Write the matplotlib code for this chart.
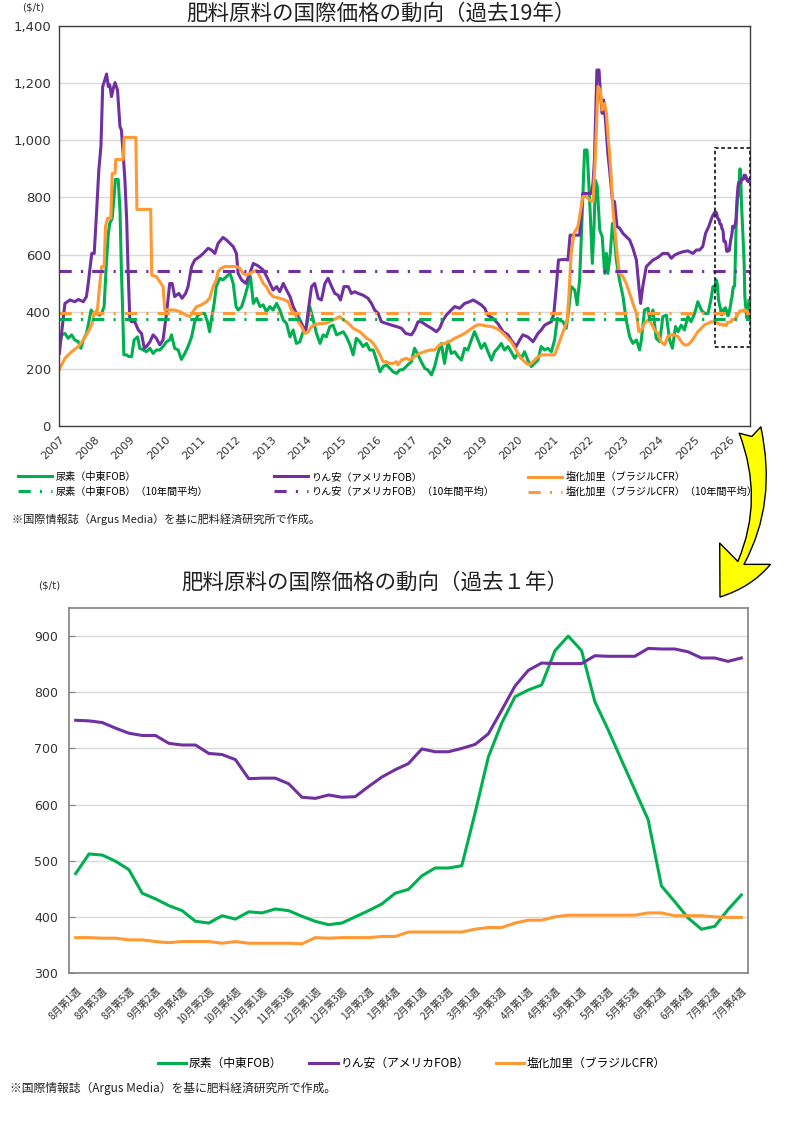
import numpy as np
import pandas as pd
import matplotlib
matplotlib.use('Agg')
import matplotlib.pyplot as plt
from matplotlib.patches import Rectangle, FancyArrowPatch
from matplotlib.ticker import FuncFormatter

plt.rcParams['font.family'] = ['Noto Sans CJK JP', 'DejaVu Sans']

# ---- 過去19年 (decimal year) ----
urea_year = [
    2007.00, 2007.07, 2007.16, 2007.25, 2007.35, 2007.44, 2007.54, 2007.61, 2007.68, 2007.77,
    2007.82, 2007.90, 2007.96, 2008.06, 2008.15, 2008.20, 2008.27, 2008.34, 2008.39, 2008.43,
    2008.50, 2008.56, 2008.59, 2008.67, 2008.72, 2008.76, 2008.79, 2008.83, 2008.91, 2008.97,
    2009.05, 2009.12, 2009.22, 2009.28, 2009.38, 2009.47, 2009.57, 2009.66, 2009.75, 2009.85,
    2009.94, 2010.04, 2010.13, 2010.18, 2010.27, 2010.37, 2010.46, 2010.56, 2010.65, 2010.75,
    2010.84, 2010.93, 2011.03, 2011.12, 2011.20, 2011.26, 2011.31, 2011.39, 2011.45, 2011.55,
    2011.64, 2011.74, 2011.84, 2011.93, 2012.01, 2012.07, 2012.17, 2012.26, 2012.36, 2012.42,
    2012.50, 2012.59, 2012.69, 2012.78, 2012.87, 2012.97, 2013.06, 2013.16, 2013.25, 2013.35,
    2013.44, 2013.54, 2013.63, 2013.72, 2013.82, 2013.91, 2014.01, 2014.10, 2014.20, 2014.29,
    2014.39, 2014.48, 2014.57, 2014.67, 2014.76, 2014.86, 2014.95, 2015.05, 2015.14, 2015.24,
    2015.33, 2015.42, 2015.52, 2015.61, 2015.71, 2015.80, 2015.90, 2015.99, 2016.09, 2016.18,
    2016.27, 2016.37, 2016.46, 2016.56, 2016.65, 2016.75, 2016.88, 2016.98, 2017.07, 2017.17,
    2017.26, 2017.36, 2017.45, 2017.55, 2017.64, 2017.73, 2017.83, 2017.92, 2018.02, 2018.11,
    2018.21, 2018.30, 2018.40, 2018.49, 2018.58, 2018.68, 2018.77, 2018.87, 2018.96, 2019.06,
    2019.15, 2019.25, 2019.34, 2019.43, 2019.53, 2019.62, 2019.72, 2019.81, 2019.91, 2020.00,
    2020.10, 2020.19, 2020.28, 2020.38, 2020.47, 2020.57, 2020.66, 2020.76, 2020.85, 2020.95,
    2021.04, 2021.12, 2021.18, 2021.28, 2021.37, 2021.44, 2021.51, 2021.61, 2021.68, 2021.75,
    2021.81, 2021.89, 2021.96, 2022.01, 2022.06, 2022.11, 2022.16, 2022.20, 2022.25, 2022.32,
    2022.39, 2022.46, 2022.51, 2022.55, 2022.62, 2022.68, 2022.72, 2022.79, 2022.88, 2022.98,
    2023.07, 2023.17, 2023.26, 2023.36, 2023.45, 2023.50, 2023.59, 2023.69, 2023.73, 2023.83,
    2023.92, 2024.02, 2024.11, 2024.21, 2024.30, 2024.38, 2024.47, 2024.54, 2024.63, 2024.72,
    2024.82, 2024.91, 2025.01, 2025.10, 2025.20, 2025.29, 2025.39, 2025.48, 2025.53]
urea_price = [
    289, 319, 324, 307, 319, 301, 295, 272, 301, 324,
    353, 406, 394, 394, 388, 394, 418, 581, 674, 709,
    727, 814, 863, 863, 756, 546, 429, 249, 249, 243,
    243, 301, 312, 272, 266, 260, 272, 254, 266, 266,
    278, 295, 301, 319, 272, 266, 233, 254, 278, 312,
    365, 388, 394, 394, 365, 330, 371, 429, 488, 517,
    511, 523, 534, 499, 418, 406, 418, 453, 499, 523,
    429, 447, 418, 424, 400, 418, 406, 429, 406, 371,
    359, 312, 336, 289, 295, 330, 348, 418, 371, 324,
    289, 319, 312, 348, 353, 319, 324, 330, 312, 284,
    249, 307, 295, 278, 289, 266, 266, 231, 190, 208,
    214, 202, 190, 184, 196, 198, 214, 225, 272, 249,
    225, 202, 196, 179, 208, 254, 289, 219, 295, 254,
    260, 243, 231, 272, 266, 301, 330, 301, 272, 289,
    260, 231, 260, 272, 289, 266, 278, 260, 237, 254,
    237, 260, 231, 208, 219, 231, 278, 266, 272, 260,
    301, 377, 371, 365, 342, 406, 488, 476, 424, 511,
    698, 966, 966, 850, 720, 569, 700, 860, 838, 686,
    663, 534, 604, 534, 604, 709, 686, 581, 511, 453,
    371, 312, 289, 301, 266, 301, 406, 412, 377, 406,
    307, 295, 383, 388, 301, 272, 348, 330, 353, 336,
    383, 365, 394, 435, 406, 394, 394, 447, 488]

dap_year = [
    2007.00, 2007.16, 2007.30, 2007.44, 2007.54, 2007.68, 2007.77, 2007.82, 2007.92, 2007.99,
    2008.06, 2008.12, 2008.18, 2008.23, 2008.29, 2008.34, 2008.39, 2008.43, 2008.48, 2008.53,
    2008.58, 2008.65, 2008.72, 2008.76, 2008.81, 2008.86, 2008.91, 2008.95, 2009.00, 2009.05,
    2009.14, 2009.24, 2009.33, 2009.41, 2009.47, 2009.57, 2009.66, 2009.75, 2009.85, 2009.94,
    2010.04, 2010.13, 2010.20, 2010.27, 2010.39, 2010.48, 2010.58, 2010.65, 2010.75, 2010.84,
    2010.98, 2011.08, 2011.22, 2011.31, 2011.41, 2011.50, 2011.64, 2011.74, 2011.84, 2011.93,
    2012.02, 2012.07, 2012.17, 2012.29, 2012.40, 2012.50, 2012.64, 2012.78, 2012.88, 2012.97,
    2013.06, 2013.16, 2013.25, 2013.35, 2013.44, 2013.54, 2013.63, 2013.72, 2013.82, 2013.91,
    2013.99, 2014.06, 2014.15, 2014.24, 2014.34, 2014.43, 2014.53, 2014.62, 2014.72, 2014.81,
    2014.90, 2014.97, 2015.07, 2015.19, 2015.28, 2015.38, 2015.47, 2015.61, 2015.75, 2015.85,
    2015.94, 2016.04, 2016.13, 2016.27, 2016.42, 2016.56, 2016.70, 2016.82, 2016.98, 2017.07,
    2017.17, 2017.26, 2017.40, 2017.55, 2017.69, 2017.78, 2017.88, 2017.97, 2018.11, 2018.21,
    2018.35, 2018.49, 2018.63, 2018.73, 2018.82, 2018.96, 2019.06, 2019.15, 2019.29, 2019.43,
    2019.58, 2019.72, 2019.81, 2019.95, 2020.05, 2020.14, 2020.28, 2020.43, 2020.57, 2020.66,
    2020.76, 2020.85, 2020.95, 2021.02, 2021.09, 2021.15, 2021.32, 2021.42, 2021.48, 2021.61,
    2021.75, 2021.84, 2021.94, 2022.08, 2022.13, 2022.17, 2022.24, 2022.30, 2022.34, 2022.39,
    2022.43, 2022.49, 2022.55, 2022.60, 2022.68, 2022.74, 2022.81, 2022.88, 2022.98, 2023.07,
    2023.17, 2023.26, 2023.36, 2023.43, 2023.48, 2023.54, 2023.64, 2023.73, 2023.83, 2023.97,
    2024.11, 2024.25, 2024.35, 2024.44, 2024.54, 2024.68, 2024.82, 2024.96, 2025.06, 2025.15,
    2025.24, 2025.32, 2025.41, 2025.51]
dap_price = [
    254, 429, 441, 435, 443, 435, 453, 499, 604, 604,
    756, 896, 978, 1188, 1211, 1232, 1188, 1194, 1153, 1182,
    1202, 1176, 1048, 1036, 954, 861, 721, 546, 371, 365,
    365, 336, 324, 272, 278, 295, 319, 307, 284, 301,
    394, 499, 499, 453, 464, 447, 464, 488, 558, 581,
    593, 604, 622, 616, 604, 639, 660, 651, 639, 628,
    604, 534, 511, 499, 534, 569, 560, 546, 523, 499,
    476, 488, 470, 499, 476, 453, 418, 394, 371, 348,
    336, 406, 488, 499, 447, 441, 499, 517, 488, 464,
    458, 441, 488, 488, 464, 470, 464, 458, 447, 429,
    406, 394, 365, 359, 353, 348, 342, 324, 319, 336,
    365, 365, 353, 342, 330, 342, 371, 388, 406, 418,
    412, 429, 435, 441, 435, 424, 412, 388, 377, 359,
    330, 319, 301, 278, 301, 319, 312, 295, 324, 336,
    353, 359, 365, 394, 488, 581, 583, 581, 668, 668,
    668, 814, 814, 814, 849, 931, 1246, 1246, 1164, 1094,
    1141, 1059, 954, 896, 791, 785, 698, 693, 674, 663,
    651, 622, 581, 488, 429, 488, 558, 569, 581, 590,
    604, 604, 587, 598, 604, 610, 613, 604, 616, 616,
    628, 674, 698, 733]

potash_year = [
    2007.00, 2007.16, 2007.35, 2007.54, 2007.68, 2007.82, 2007.92, 2007.99, 2008.08, 2008.15,
    2008.20, 2008.27, 2008.31, 2008.37, 2008.46, 2008.50, 2008.58, 2008.60, 2008.81, 2008.84,
    2009.17, 2009.20, 2009.59, 2009.62, 2009.75, 2009.88, 2009.94, 2009.99, 2010.13, 2010.27,
    2010.42, 2010.51, 2010.60, 2010.70, 2010.79, 2010.89, 2011.03, 2011.17, 2011.26, 2011.36,
    2011.45, 2011.50, 2011.59, 2011.69, 2011.84, 2012.02, 2012.12, 2012.21, 2012.31, 2012.40,
    2012.50, 2012.59, 2012.69, 2012.78, 2012.87, 2012.97, 2013.06, 2013.25, 2013.39, 2013.49,
    2013.58, 2013.68, 2013.77, 2013.87, 2013.96, 2014.06, 2014.15, 2014.24, 2014.39, 2014.53,
    2014.67, 2014.76, 2014.86, 2014.95, 2015.05, 2015.14, 2015.24, 2015.33, 2015.42, 2015.52,
    2015.61, 2015.71, 2015.80, 2015.90, 2015.99, 2016.09, 2016.18, 2016.27, 2016.37, 2016.46,
    2016.56, 2016.60, 2016.70, 2016.84, 2016.93, 2017.07, 2017.21, 2017.36, 2017.50, 2017.64,
    2017.78, 2017.92, 2018.06, 2018.21, 2018.35, 2018.49, 2018.63, 2018.77, 2018.85, 2018.96,
    2019.10, 2019.25, 2019.39, 2019.53, 2019.67, 2019.81, 2019.95, 2020.05, 2020.14, 2020.24,
    2020.33, 2020.43, 2020.52, 2020.66, 2020.80, 2020.95, 2021.04, 2021.13, 2021.23, 2021.32,
    2021.40, 2021.46, 2021.51, 2021.59, 2021.70, 2021.78, 2021.84, 2021.94, 2022.03, 2022.13,
    2022.20, 2022.27, 2022.34, 2022.39, 2022.46, 2022.51, 2022.55, 2022.60, 2022.65, 2022.69,
    2022.74, 2022.81, 2022.88, 2022.98, 2023.07, 2023.17, 2023.26, 2023.36, 2023.43, 2023.50,
    2023.59, 2023.69, 2023.78, 2023.88, 2023.97, 2024.06, 2024.16, 2024.25, 2024.35, 2024.44,
    2024.54, 2024.63, 2024.72, 2024.82, 2024.91, 2025.01, 2025.10, 2025.20, 2025.29, 2025.39,
    2025.48]
potash_price = [
    198, 237, 260, 278, 301, 330, 354, 394, 406, 499,
    558, 558, 698, 727, 727, 884, 884, 933, 933, 1010,
    1010, 758, 758, 528, 523, 499, 488, 406, 406, 406,
    400, 394, 388, 383, 400, 418, 424, 435, 447, 488,
    511, 540, 552, 558, 558, 558, 552, 534, 528, 534,
    540, 546, 523, 499, 488, 464, 453, 447, 441, 435,
    406, 394, 365, 348, 324, 330, 348, 354, 359, 359,
    365, 371, 377, 383, 371, 365, 354, 342, 336, 330,
    319, 307, 301, 289, 272, 249, 225, 225, 219, 219,
    225, 214, 231, 237, 231, 243, 254, 260, 266, 266,
    284, 289, 295, 307, 315, 324, 336, 348, 354, 354,
    350, 348, 342, 330, 313, 295, 266, 243, 231, 219,
    214, 225, 237, 249, 249, 249, 249, 278, 313, 342,
    371, 488, 604, 674, 698, 756, 803, 803, 791, 785,
    954, 1188, 1176, 1106, 1129, 1094, 1024, 954, 861, 768,
    698, 604, 534, 523, 499, 464, 429, 394, 330, 336,
    359, 371, 359, 336, 324, 295, 284, 313, 319, 319,
    313, 295, 284, 284, 295, 313, 330, 342, 354, 359,
    365]

# 10年間平均
urea_avg = 375
dap_avg = 542
potash_avg = 397

# ---- 過去1年 (weekly) ----
week_labels = ['8月第1週', '8月第3週', '8月第5週', '9月第2週', '9月第4週', '10月第2週',
               '10月第4週', '11月第1週', '11月第3週', '12月第1週', '12月第3週', '1月第2週',
               '1月第4週', '2月第1週', '2月第3週', '3月第1週', '3月第3週', '4月第1週',
               '4月第3週', '5月第1週', '5月第3週', '5月第5週', '6月第2週', '6月第4週',
               '7月第2週', '7月第4週']
urea_week = [477, 512, 510, 499, 484, 442, 432, 420, 411, 392,
             389, 402, 396, 409, 407, 414, 411, 401, 392, 386,
             389, 400, 411, 423, 442, 449, 473, 487, 487, 491,
             585, 685, 745, 792, 804, 813, 874, 900, 874, 783,
             733, 679, 626, 573, 455, 427, 398, 378, 383, 413, 439]
dap_week = [750, 749, 746, 736, 727, 723, 723, 709, 706, 706,
            691, 689, 680, 646, 647, 647, 637, 613, 611, 617,
            613, 614, 632, 649, 662, 673, 699, 694, 694, 700,
            707, 726, 768, 811, 839, 852, 851, 851, 851, 865,
            864, 864, 864, 878, 877, 877, 872, 861, 861, 855, 861]
potash_week = [363, 363, 362, 362, 359, 359, 356, 354, 356, 356,
               356, 353, 356, 353, 353, 353, 353, 352, 363, 362,
               363, 363, 363, 365, 365, 373, 373, 373, 373, 373,
               378, 381, 381, 389, 394, 394, 400, 403, 403, 403,
               403, 403, 403, 407, 407, 402, 402, 402, 400, 399, 399]

GREEN = '#00B050'
PURPLE = '#7030A0'
ORANGE = '#FF9933'
LW = 2.2
AVG_LS = (0, (4, 3, 0.7, 3))

names = ['尿素（中東FOB）', 'りん安（アメリカFOB）', '塩化加里（ブラジルCFR）']
note = '※国際情報誌（Argus Media）を基に肥料経済研究所で作成。'

W, H = 800, 1139
fig = plt.figure(figsize=(W / 100, H / 100), dpi=100)


def fx(px):
    return px / W


def fy(py):
    return 1 - py / H


# weekly dates of the last year, appended to the long series
week_dates = pd.date_range('2025-08-04', periods=len(urea_week), freq='7D')
week_yr = list(week_dates.year + (week_dates.dayofyear - 1) / 365.0)

# ================= top chart =================
ax1 = fig.add_axes([fx(59.3), fy(426), fx(690.7), 400 / H])
h_u, = ax1.plot(urea_year + week_yr, urea_price + urea_week, color=GREEN, lw=LW)
h_d, = ax1.plot(dap_year + week_yr, dap_price + dap_week, color=PURPLE, lw=LW)
h_p, = ax1.plot(potash_year + week_yr, potash_price + potash_week, color=ORANGE, lw=LW)
a_u = ax1.axhline(urea_avg, color=GREEN, lw=LW, ls=AVG_LS)
a_d = ax1.axhline(dap_avg, color=PURPLE, lw=LW, ls=AVG_LS)
a_p = ax1.axhline(potash_avg, color=ORANGE, lw=LW, ls=AVG_LS)

ax1.set_xlim(2007, 2026.58)
ax1.set_ylim(0, 1400)
ax1.set_yticks(range(0, 1401, 200))
ax1.yaxis.set_major_formatter(FuncFormatter(lambda v, p: f'{v:,.0f}'))
ax1.yaxis.grid(True, color='#d9d9d9', lw=1)
ax1.set_axisbelow(True)
years = list(range(2007, 2027))
ax1.set_xticks(years)
ax1.set_xticklabels([str(y) for y in years], rotation=45, ha='right', va='top',
                    rotation_mode='anchor')
ax1.tick_params(length=0)
ax1.tick_params(axis='x', pad=6)
ax1.tick_params(axis='y', pad=6)
for lab in ax1.get_xticklabels():
    lab.set_fontfamily('DejaVu Sans')
    lab.set_fontsize(8)
    lab.set_color('#333333')
for lab in ax1.get_yticklabels():
    lab.set_fontfamily('DejaVu Sans')
    lab.set_fontsize(9.5)
    lab.set_color('#333333')
for s in ax1.spines.values():
    s.set_color('#404040')
    s.set_linewidth(1.0)

# focus box around the last year
ax1.add_patch(Rectangle((2025.60, 277), 0.99, 696, fill=False, ec='#222222', lw=1.3,
                        ls=(0, (2, 1.5)), clip_on=False, zorder=5))

fig.text(fx(381), fy(14), '肥料原料の国際価格の動向（過去19年）', ha='center', va='center',
         fontsize=15.5, color='#222222')
fig.text(fx(22), fy(7), '($/t)', ha='left', va='center', fontsize=7.5,
         family='DejaVu Sans', color='#333333')

for x0, pair, labs in zip([18, 274, 528], [(h_u, a_u), (h_d, a_d), (h_p, a_p)], names):
    fig.legend(pair, [labs, labs + '（10年間平均）'], loc='upper left',
               bbox_to_anchor=(fx(x0), fy(472)), frameon=False, borderpad=0,
               borderaxespad=0, handlelength=3.4, handletextpad=0.35,
               labelspacing=0.45, fontsize=7.3)

fig.text(fx(12), fy(519), note, ha='left', va='center', fontsize=8, color='#222222')

# ================= bottom chart =================
ax2 = fig.add_axes([fx(69), fy(973), fx(679), 365 / H])
xi = np.arange(len(urea_week))
b_u, = ax2.plot(xi, urea_week, color=GREEN, lw=LW)
b_d, = ax2.plot(xi, dap_week, color=PURPLE, lw=LW)
b_p, = ax2.plot(xi, potash_week, color=ORANGE, lw=LW)
ax2.set_xlim(-0.5, len(urea_week) - 0.5)
ax2.set_ylim(300, 950)
ax2.set_yticks(range(300, 901, 100))
ax2.yaxis.grid(True, color='#d9d9d9', lw=1)
ax2.set_axisbelow(True)
ax2.set_xticks(xi[::2])
ax2.set_xticklabels(week_labels, rotation=45, ha='right', va='top', rotation_mode='anchor',
                    fontsize=7.2, color='#333333')
ax2.tick_params(axis='x', length=0, pad=9)
ax2.tick_params(axis='y', direction='in', length=4, color='#7f7f7f', pad=8)
for lab in ax2.get_yticklabels():
    lab.set_fontfamily('DejaVu Sans')
    lab.set_fontsize(9)
    lab.set_color('#333333')
for s in ax2.spines.values():
    s.set_color('#808080')
    s.set_linewidth(1.2)

fig.text(fx(375), fy(583), '肥料原料の国際価格の動向（過去１年）', ha='center', va='center',
         fontsize=15.5, color='#222222')
fig.text(fx(38), fy(586), '($/t)', ha='left', va='center', fontsize=7.5,
         family='DejaVu Sans', color='#333333')

fig.legend([b_u, b_d, b_p], names, ncol=3, loc='upper left',
           bbox_to_anchor=(fx(158), fy(1057)), frameon=False, borderpad=0,
           borderaxespad=0, handlelength=2.4, handletextpad=0.2, columnspacing=2.3,
           fontsize=8.5)
fig.text(fx(10), fy(1088), note, ha='left', va='center', fontsize=8.5, color='#222222')

# yellow arrow from the box down to the one-year chart
arrow = FancyArrowPatch((fx(750), fy(430)), (fx(720), fy(597)), transform=fig.transFigure,
                        connectionstyle='arc3,rad=-0.25',
                        arrowstyle='fancy,head_length=1.0,head_width=1.1,tail_width=0.45',
                        mutation_scale=36, fc='#FFFF00', ec='black', lw=1,
                        shrinkA=0, shrinkB=0, zorder=10)
fig.add_artist(arrow)

fig.savefig('out.png', dpi=100)
